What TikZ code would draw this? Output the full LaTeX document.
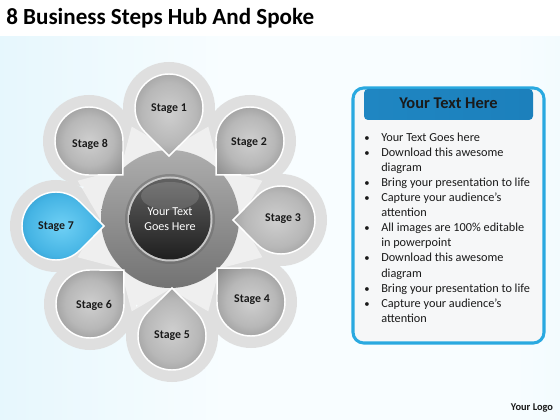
\documentclass[tikz,border=0pt]{standalone}
\usepackage{fontspec}
\setmainfont{Carlito}
\usetikzlibrary{calc}
\definecolor{bgleft}{HTML}{D0EFFA}
\definecolor{bgmid}{HTML}{F8FDFF}
\definecolor{bgright}{HTML}{DAF2FB}
\definecolor{halo}{HTML}{DFDFDF}
\definecolor{panelblue}{HTML}{2AA9E0}
\definecolor{panelfill}{HTML}{F6F7F8}
\definecolor{hdrL}{HTML}{1F86C2}
\definecolor{hdrM}{HTML}{45B4E4}
\definecolor{hdrR}{HTML}{1C80BC}
\definecolor{txtdark}{HTML}{1A1A1A}
\definecolor{blueC}{HTML}{6FD0F5}
\pgfdeclareradialshading{graydrop}{\pgfpoint{0bp}{0bp}}{color(0bp)=(black!19); color(18bp)=(black!28); color(39bp)=(black!50); color(50bp)=(black!58)}
\pgfdeclareradialshading{bluedrop}{\pgfpoint{0bp}{0bp}}{color(0bp)=(blueC); color(20bp)=(hdrM); color(40bp)=(hdrL!90!black); color(50bp)=(hdrL!80!black)}
\pgfdeclarehorizontalshading{bgshade}{100bp}{color(0bp)=(bgleft); color(45bp)=(bgmid); color(70bp)=(bgmid); color(100bp)=(bgright)}
\tikzset{
  halostyle/.style={fill=halo},
  dropgray/.style={shading=graydrop, draw=white, line width=1.1},
  dropblue/.style={shading=bluedrop, draw=white, line width=1.1},
  stagelabel/.style={font=\fontsize{8.9}{10}\selectfont\bfseries, text=txtdark},
  bullettext/.style={anchor=base west, font=\fontsize{9.2}{11}\selectfont, text=txtdark, inner sep=0},
  bulletdot/.style={anchor=base west, font=\fontsize{8}{11}\selectfont, text=txtdark, inner sep=0},
}
\newcommand{\mydrop}[4]{%
  \path[#4] (#1,#2) ++(#3+45:34) arc[start angle=#3+45, delta angle=270, radius=34] -- ($(#1,#2)+(#3:48)$) -- cycle;}
\begin{document}
\begin{tikzpicture}[x=0.75pt, y=-0.75pt]
\useasboundingbox (0,0) rectangle (560,420);
% background
\fill[white] (0,0) rectangle (560,37);
\shade[shading=bgshade] (0,37) rectangle (560,420);
% title
\node[anchor=base west, inner sep=0, font=\fontsize{17.3}{20}\selectfont\bfseries, text=black] (title) at (6,25) {8 Business Steps Hub And Spoke};
% halos
\fill[halostyle] (170,219) circle[radius=92];
\foreach \x/\y in {169/108, 250/141, 281/220, 251/302, 172/336, 90/304, 56/226, 89/141}
  \fill[halostyle] (\x,\y) circle[radius=46];
% star highlights
\fill[white, opacity=0.5]
  ($(170,219)+(22.5:100)$) -- ($(170,219)+(45:70)$) -- ($(170,219)+(67.5:100)$) -- ($(170,219)+(90:70)$)
  -- ($(170,219)+(112.5:100)$) -- ($(170,219)+(135:70)$) -- ($(170,219)+(157.5:100)$) -- ($(170,219)+(180:70)$)
  -- ($(170,219)+(202.5:100)$) -- ($(170,219)+(225:70)$) -- ($(170,219)+(247.5:100)$) -- ($(170,219)+(270:70)$)
  -- ($(170,219)+(292.5:100)$) -- ($(170,219)+(315:70)$) -- ($(170,219)+(337.5:100)$) -- ($(170,219)+(0:70)$) -- cycle;
% hub
\shade[top color=black!32, bottom color=black!55] (170,219) circle[radius=69];
\fill[black!60, opacity=0.45] (170,219) circle[radius=45];
\fill[black!22] (170,219) circle[radius=42.5];
\shade[top color=black!62, middle color=black!82, bottom color=black!88] (170,219) circle[radius=40.5];
\fill[white, opacity=0.14] (170,196) ellipse[x radius=29, y radius=14];
\node[font=\fontsize{9.1}{11.2}\selectfont, text=white, align=center] (hub) at (170,219) {Your Text\\Goes Here};
% drops
\mydrop{169}{108}{90}{dropgray}
\mydrop{250}{141}{135}{dropgray}
\mydrop{281}{220}{180}{dropgray}
\mydrop{251}{302}{225}{dropgray}
\mydrop{172}{336}{270}{dropgray}
\mydrop{90}{304}{315}{dropgray}
\mydrop{56}{226}{0}{dropblue}
\mydrop{89}{141}{45}{dropgray}
\node[stagelabel] (s1) at (169,109) {Stage 1};
\node[stagelabel] (s2) at (249,143) {Stage 2};
\node[stagelabel] (s3) at (283,219) {Stage 3};
\node[stagelabel] (s4) at (252,300) {Stage 4};
\node[stagelabel] (s5) at (172,336) {Stage 5};
\node[stagelabel] (s6) at (94,305) {Stage 6};
\node[stagelabel] (s7) at (56,227) {Stage 7};
\node[stagelabel] (s8) at (90,144) {Stage 8};
% panel
\draw[line width=2.3, draw=panelblue, fill=panelfill, rounded corners=8] (353,88) rectangle (544,343);
\shade[left color=hdrL, middle color=hdrM, right color=hdrR, rounded corners=3] (364,89) rectangle (533,120);
\node[font=\fontsize{12.3}{14}\selectfont\bfseries, text=txtdark] (hdr) at (448.5,103.5) {Your Text Here};
\foreach \i/\t/\b in {0/Your Text Goes here/1, 1/Download this awesome/1, 2/diagram/0,
  3/Bring your presentation to life/1, 4/Capture your audience’s/1, 5/attention/0,
  6/All images are 100\% editable/1, 7/in powerpoint/0, 8/Download this awesome/1, 9/diagram/0,
  10/Bring your presentation to life/1, 11/Capture your audience’s/1, 12/attention/0}{
  \node[bullettext] (l\i) at (381,142+15*\i) {\t};
  \ifnum\b=1 \node[bulletdot] (b\i) at (364,142+15*\i) {•};\fi
}
\node[font=\fontsize{7.8}{9}\selectfont\bfseries, text=txtdark] (logo) at (532,408) {Your Logo};
\end{tikzpicture}
\end{document}
